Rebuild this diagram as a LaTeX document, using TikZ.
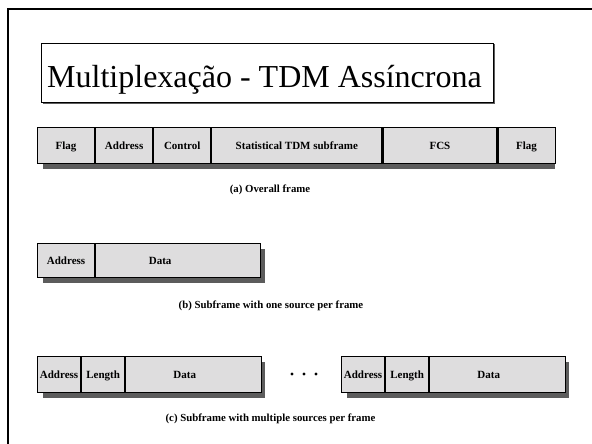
\documentclass[tikz,border=0pt]{standalone}
\usepackage{fontspec}
\setmainfont{Liberation Serif}
\tikzset{
  celltext/.style={font=\bfseries\fontsize{11}{12}\selectfont, text height=7pt, text depth=0pt},
  cell/.style={draw=black, line width=1.1pt, fill=cellgrey, minimum height=36pt,
    inner sep=0pt, anchor=north west, celltext},
  caption/.style={font=\bfseries\fontsize{10.8}{12}\selectfont, anchor=center},
  dot/.style={circle, fill=black, inner sep=0pt, minimum size=3.4pt}
}
\definecolor{cellgrey}{HTML}{DEDDDE}
\definecolor{shadowgrey}{HTML}{5C5C5C}
\begin{document}
\begin{tikzpicture}[x=1pt,y=-1pt]
  \useasboundingbox (0,0) rectangle (592,444);
  \fill[white] (0,0) rectangle (592,444);

  % page frame, open towards the right and bottom edges
  \draw[line width=2pt] (592,9.3) -- (7.5,9.3) -- (7.5,444);

  % title
  \fill[shadowgrey] (42.5,44.5) rectangle (494.5,103.5);
  \node[draw=black, line width=0.7pt, fill=white, minimum width=452pt, minimum height=59pt,
        inner sep=0pt, anchor=north west] (title) at (41,43) {};
  \node[font=\fontsize{32}{36}\selectfont, anchor=base] (titletext) at (264.5,87.5)
        {Multiplexação - TDM Assíncrona};

  % (a) overall frame
  \fill[shadowgrey] (42.5,132.5) rectangle (554.5,168.5);
  \node[cell, minimum width=57pt]  (aflag1) at (37,127) {Flag};
  \node[cell, minimum width=57pt]  (aaddr)  at (aflag1.north east) {Address};
  \node[cell, minimum width=57pt]  (actrl)  at (aaddr.north east) {Control};
  \node[cell, minimum width=170pt] (asub)   at (actrl.north east) {Statistical TDM subframe};
  \node[cell, minimum width=114pt] (afcs)   at (asub.north east) {FCS};
  \node[cell, minimum width=57pt]  (aflag2) at (afcs.north east) {Flag};
  \node[caption] (capa) at (270,190) {(a) Overall frame};

  % (b) subframe with one source
  \fill[shadowgrey] (42.5,248.5) rectangle (264.5,282.5);
  \node[cell, minimum width=57pt, minimum height=34pt]  (baddr) at (37,243) {Address};
  \node[cell, minimum width=165pt, minimum height=34pt] (bdata) at (baddr.north east) {};
  \node[celltext] (bdatat) at ([xshift=-18pt]bdata.center) {Data};
  \node[caption] (capb) at (271,306) {(b) Subframe with one source per frame};

  % (c) subframe with multiple sources
  \fill[shadowgrey] (42.5,361.5) rectangle (264.5,397.5);
  \node[cell, minimum width=43pt]  (c1addr) at (37,356) {Address};
  \node[cell, minimum width=43pt]  (c1len)  at (c1addr.north east) {Length};
  \node[cell, minimum width=136pt] (c1data) at (c1len.north east) {};
  \node[celltext] (c1datat) at ([xshift=-9pt]c1data.center) {Data};

  \node[dot] (d1) at (292,374) {};
  \node[dot] (d2) at (304,374) {};
  \node[dot] (d3) at (316,374) {};

  \fill[shadowgrey] (346.5,361.5) rectangle (568.5,397.5);
  \node[cell, minimum width=43pt]  (c2addr) at (341,356) {Address};
  \node[cell, minimum width=43pt]  (c2len)  at (c2addr.north east) {Length};
  \node[cell, minimum width=136pt] (c2data) at (c2len.north east) {};
  \node[celltext] (c2datat) at ([xshift=-9pt]c2data.center) {Data};
  \node[caption] (capc) at (270.5,419) {(c) Subframe with multiple sources per frame};
\end{tikzpicture}
\end{document}
